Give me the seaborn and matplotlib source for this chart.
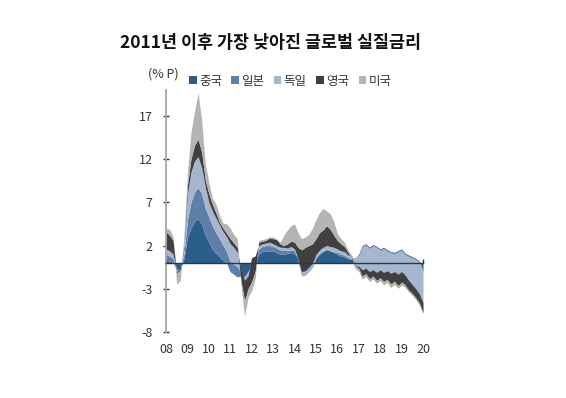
import numpy as np
import pandas as pd
import matplotlib
matplotlib.use("Agg")
import matplotlib.pyplot as plt
import matplotlib.dates as mdates
import seaborn as sns

# bimonthly points, Jan 2008 .. Jan 2020
dates = pd.date_range("2008-01-01", "2020-01-01", freq="2MS")

china = [0.3, 0.2, 0.1, -0.8, -0.8, 0.5, 3.0, 4.0, 4.8, 5.1, 4.5, 3.2,
         2.4, 1.6, 1.1, 0.7, 0.3, 0.0, -1.0, -1.3, -1.6, -1.5, -1.6, -1.0,
         -0.3, 0.2, 1.0, 1.3, 1.4, 1.3, 1.4, 1.2, 1.0, 1.0, 1.1, 1.2,
         1.0, 0.8, 0.5, 0.6, 0.8, 1.0, 1.3, 1.5, 1.6, 1.6, 1.4, 1.2,
         1.0, 0.8, 0.7, 0.5, 0.4, 0.5, 1.0, 2.0, 2.2, 1.8, 2.1, 1.9,
         1.6, 1.8, 1.5, 1.3, 1.2, 1.4, 1.6, 1.1, 0.9, 0.7, 0.5, 0.2, -1.0]
japan = [0.7, 0.6, 0.4, 0.0, 0.2, 0.5, 2.0, 3.0, 3.4, 3.6, 3.5, 3.1,
         2.9, 2.7, 2.4, 2.1, 1.7, 1.3, 1.0, 1.1, 1.1, 0.3, 0.0, 0.0,
         0.3, 0.2, 0.6, 0.6, 0.6, 0.7, 0.5, 0.5, 0.5, 0.5, 0.3, 0.3,
         0.4, -0.5, -2.0, -2.0, -1.8, -1.5, -0.8, -0.5, -0.3, -0.1, 0.0, 0.1,
         0.2, 0.2, 0.2, 0.1, 0.1, 0.1, -0.1, -0.1, -0.1, -0.1, -0.1, -0.1,
         -0.1, -0.1, -0.1, -0.1, -0.1, -0.1, -0.1, -0.1, -0.1, -0.1, -0.1, -0.1, -0.1]
germany = [0.6, 0.6, 0.5, -0.2, 0.0, 0.5, 3.0, 3.5, 3.6, 3.6, 3.0, 2.5,
           1.7, 1.7, 1.7, 1.6, 1.6, 1.7, 2.2, 2.0, 1.7, 0.7, -0.4, -0.5,
           0.6, 0.4, 0.4, 0.3, 0.3, 0.4, 0.3, 0.3, 0.3, 0.3, 0.3, 0.4,
           0.2, 0.2, 0.5, 0.5, 0.5, 0.5, 0.5, 0.5, 0.5, 0.5, 0.5, 0.5,
           0.4, 0.4, 0.4, 0.3, 0.3, -0.9, -1.3, -2.7, -2.7, -2.7, -2.8, -2.9,
           -2.3, -2.8, -2.3, -2.4, -2.1, -2.6, -2.5, -2.4, -2.8, -3.1, -3.4, -3.7, -3.5]
uk = [2.0, 1.8, 1.6, -0.2, -0.2, 0.5, 1.0, 1.5, 1.8, 2.0, 1.8, 0.8,
      1.0, 0.8, 0.6, 0.3, 0.4, 0.4, 0.6, 0.5, 0.6, -1.5, -2.4, -1.5,
      -2.8, -1.8, 0.4, 0.3, 0.3, 0.5, 0.6, 0.7, 0.4, 0.2, 0.5, 0.6,
      0.8, 1.3, 2.5, 2.7, 2.5, 2.2, 1.8, 2.0, 2.0, 2.3, 2.0, 1.4,
      1.0, 0.8, 0.6, 0.3, -0.2, -0.3, -0.5, -1.0, -0.9, -1.1, -1.0, -1.2,
      -1.2, -1.4, -1.3, -1.6, -1.4, -1.6, -1.5, -1.4, -1.3, -1.2, -1.2, -1.2, -1.2]
us = [0.4, 0.7, 0.4, -1.3, -1.2, 1.0, 1.5, 3.0, 3.9, 5.4, 3.7, 1.9,
      1.3, 0.7, 1.0, 0.8, 0.6, 1.1, 1.2, 1.0, 1.0, -0.5, -1.8, -1.0,
      -1.0, -0.8, 0.2, 0.2, 0.2, 0.1, 0.2, 0.1, 0.2, 1.2, 1.6, 1.8,
      2.1, 1.7, 1.3, 1.2, 1.3, 1.8, 2.2, 2.3, 2.5, 1.7, 1.8, 1.6,
      0.8, 0.6, 0.5, 0.3, 0.3, 0.3, 0.3, 0.3, 0.3, 0.3, 0.3, 0.3,
      0.3, 0.4, 0.3, 0.4, 0.3, 0.3, 0.3, 0.3, 0.2, 0.2, 0.2, 0.2, 0.1]

labels = ["중국", "일본", "독일", "영국", "미국"]
colors = ["#2c5e8c", "#5f7fa8", "#a6b6cf", "#404040", "#b4b4b4"]
yticks = [-8, -3, 2, 7, 12, 17]

sns.set_theme(style="white")
plt.rcParams["font.family"] = ["Noto Sans CJK KR", "DejaVu Sans"]
plt.rcParams["axes.unicode_minus"] = False

fig = plt.figure(figsize=(5.66, 3.98), dpi=100)
ax = fig.add_axes([166 / 566, 66 / 398, 257 / 566, 242 / 398])

polys = ax.stackplot(dates, china, japan, germany, uk, us,
                     colors=colors, labels=labels, linewidth=0)

ax.set_xlim(dates[0], dates[-1])
ax.set_ylim(-8, 20)
ax.set_yticks(yticks)

for side in ["top", "right"]:
    ax.spines[side].set_visible(False)
ax.spines["left"].set_color("#a6a6a6")
ax.spines["left"].set_linewidth(1.3)
ax.spines["bottom"].set_position(("data", 0))
ax.spines["bottom"].set_color("#26384d")
ax.spines["bottom"].set_linewidth(1.0)

ax.xaxis.set_major_locator(mdates.YearLocator())
ax.tick_params(axis="x", direction="in", length=3, width=1,
               color="#26384d", labelbottom=False, bottom=True)
ax.tick_params(axis="y", direction="inout", length=5, width=1,
               color="#333333", labelsize=9, labelcolor="#333333", pad=7, left=True)

sec = ax.secondary_xaxis("bottom")
sec.xaxis.set_major_locator(mdates.YearLocator())
sec.xaxis.set_major_formatter(mdates.DateFormatter("%y"))
sec.spines["bottom"].set_visible(False)
sec.tick_params(length=0, pad=8, labelsize=9, labelcolor="#333333")

fig.legend(polys, labels, loc="center left",
           bbox_to_anchor=(189 / 566, 1 - 81 / 398), ncol=5, frameon=False,
           handlelength=0.6, handleheight=0.6, handletextpad=0.2,
           columnspacing=0.75, fontsize=9, borderaxespad=0, borderpad=0,
           labelcolor="#333333")

fig.text(163 / 566, 1 - 74 / 398, "(% P)", ha="center", va="center",
         fontsize=9, color="#333333")
fig.text(270 / 566, 1 - 43 / 398, "2011년 이후 가장 낮아진 글로벌 실질금리",
         ha="center", va="center", fontsize=12.5, fontweight="bold",
         color="#111111")

fig.savefig("out.png", dpi=100)
